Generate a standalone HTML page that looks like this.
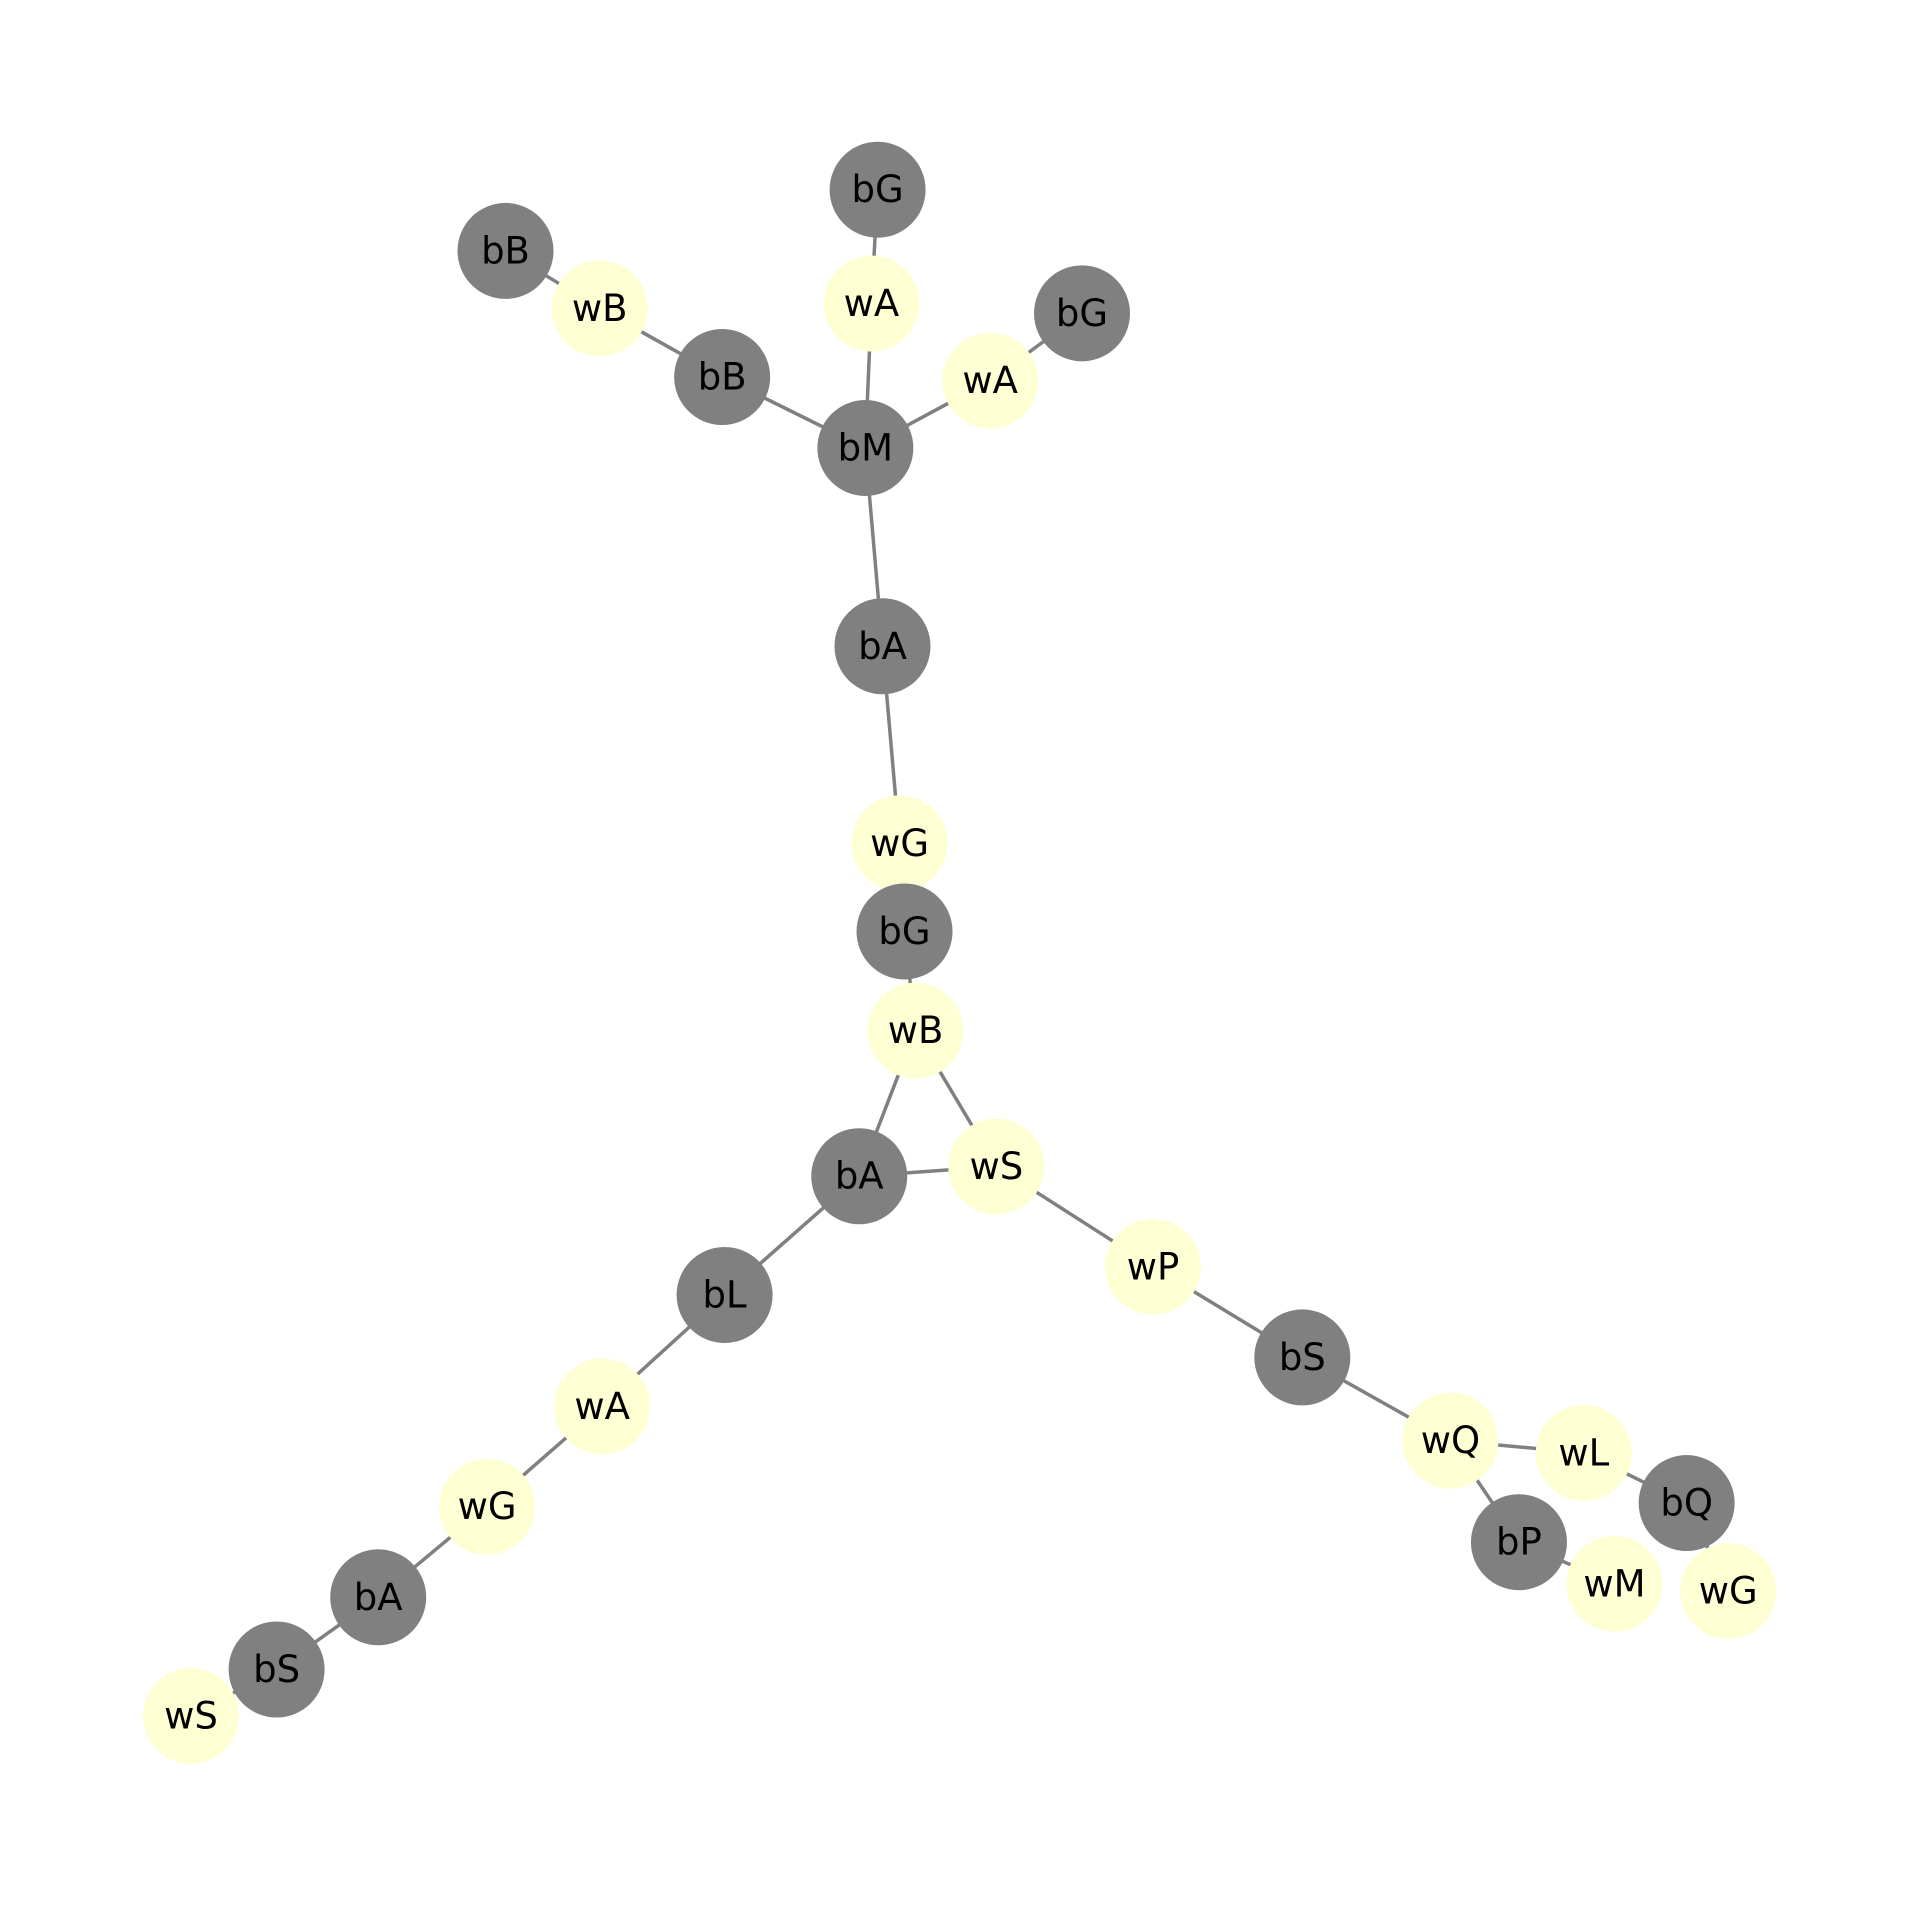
<!DOCTYPE html>
<html><head><meta charset="utf-8"><style>html,body{margin:0;padding:0;background:#fff}svg{display:block}</style></head>
<body>
<svg id="chart" width="1919" height="1907" viewBox="0 0 1919 1907" xmlns="http://www.w3.org/2000/svg">
<g id="edges"></g>
<g id="nodes"></g>
</svg>
<script>
const nodeIds = ["bB1","wB1","bB2","bG1","wA1","bG2","wA2","bM","bA1","wG1","bG3","wB2","bA2","wS1","bL","wA3","wG2","bA3","bS1","wS2","wP","bS2","wQ","wL","bQ","bP","wM","wG3"];
const nodeLabels = ["bB","wB","bB","bG","wA","bG","wA","bM","bA","wG","bG","wB","bA","wS","bL","wA","wG","bA","bS","wS","wP","bS","wQ","wL","bQ","bP","wM","wG"];
const nodeX = [413,490,590,717,712,884,809,707,721,735,739,748,702,814,592,492,398,309,226,156,942,1064,1185,1294,1378,1241,1319,1412];
const nodeY = [205,252,308,155,248,256,311,366,528,689,761,842,961,953,1058,1149,1231,1305,1364,1402,1035,1109,1177,1187,1228,1260,1294,1300];
const edgeFrom = ["bB1","wB1","bB2","bG1","wA1","bG2","wA2","bM","bA1","wG1","bG3","wB2","wB2","bA2","bA2","bL","wA3","wG2","bA3","bS1","wS1","wP","bS2","wQ","wL","wQ","bP","bQ"];
const edgeTo   = ["wB1","bB2","bM","wA1","bM","wA2","bM","bA1","wG1","bG3","wB2","bA2","wS1","wS1","bL","wA3","wG2","bA3","bS1","wS2","wP","bS2","wQ","wL","bQ","bP","wM","wG3"];
const S = 1919/1560*0.995;
const sx = v => v*S, sy = v => v*S;
const NS = "http://www.w3.org/2000/svg";
const eg = document.getElementById("edges"), ng = document.getElementById("nodes");
const idx = id => nodeIds.indexOf(id);
for (let i=0;i<edgeFrom.length;i++){
  const a=idx(edgeFrom[i]), b=idx(edgeTo[i]);
  const l=document.createElementNS(NS,"line");
  l.setAttribute("x1",sx(nodeX[a]));l.setAttribute("y1",sy(nodeY[a]));
  l.setAttribute("x2",sx(nodeX[b]));l.setAttribute("y2",sy(nodeY[b]));
  l.setAttribute("stroke","#808080");l.setAttribute("stroke-width","3.5");
  
  
  eg.appendChild(l);
}
for (let i=0;i<nodeIds.length;i++){
  const g=document.createElementNS(NS,"g");
  
  
  const c=document.createElementNS(NS,"circle");
  c.setAttribute("cx",sx(nodeX[i]));c.setAttribute("cy",sy(nodeY[i]));c.setAttribute("r",48);
  c.setAttribute("fill",nodeLabels[i][0]==="b"?"#808080":"#ffffd4");
  
  
  const t=document.createElementNS(NS,"text");
  t.setAttribute("x",sx(nodeX[i]));t.setAttribute("y",sy(nodeY[i]));
  t.setAttribute("text-anchor","middle");t.setAttribute("dominant-baseline","central");
  t.setAttribute("font-family","'DejaVu Sans','Liberation Sans',sans-serif");
  t.setAttribute("font-size","37");t.setAttribute("fill","#000");
  t.textContent=nodeLabels[i];
  
  
  g.appendChild(c);g.appendChild(t);ng.appendChild(g);
}
</script>
</body></html>
